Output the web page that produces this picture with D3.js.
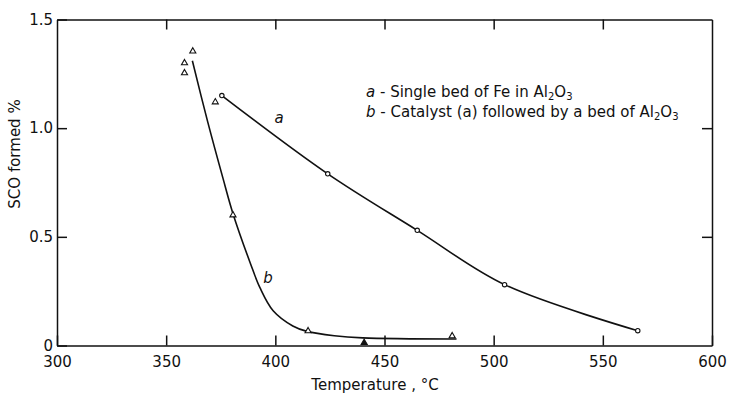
<!DOCTYPE html>
<html>
<head>
<meta charset="utf-8">
<script src="https://cdn.jsdelivr.net/npm/d3@7"></script>
<style>
  body { margin: 0; background: #fff; }
  svg { display: block; }
  .axis path, .axis line { stroke: #111; stroke-width: 1.5; }
  .axis text { font-family: "DejaVu Sans", sans-serif; font-size: 15px; fill: #111; }
  .lbl { font-family: "DejaVu Sans", sans-serif; font-size: 15px; fill: #111; }
</style>
</head>
<body>
<svg width="731" height="397"></svg>
<script>
// x ticks (temperature, °C) and y ticks (SCO formed %)
var xTicks = [300, 350, 400, 450, 500, 550, 600];
var yTicks = [0, 0.5, 1.0, 1.5];

// curve a: single bed of Fe in Al2O3 (circles)
var aTemp = [375.5, 424, 465, 505, 566];
var aVal  = [1.15, 0.79, 0.53, 0.28, 0.068];

// curve b: catalyst (a) followed by a bed of Al2O3 (triangles)
var bTemp = [362.2, 358.4, 358.4, 372.5, 380.6, 415, 440.7, 481];
var bVal  = [1.354, 1.30, 1.254, 1.12, 0.60, 0.067, 0.013, 0.044];

// smooth line drawn through b
var bLineTemp = [362, 369, 376, 380.5, 388.5, 393, 399, 408, 414.5, 427, 440, 483];
var bLineVal  = [1.31, 1.03, 0.77, 0.61, 0.38, 0.265, 0.16, 0.09, 0.065, 0.045, 0.035, 0.03];

var svg = d3.select("svg");
var mLeft = 57, mRight = 712, mTop = 19.5, mBottom = 345.5;

var x = d3.scaleLinear().domain([300, 600]).range([mLeft, mRight]);
var y = d3.scaleLinear().domain([0, 1.5]).range([mBottom, mTop]);

function zipped(xs, ys) { return xs.map(function (d, i) { return [d, ys[i]]; }); }

// axes: ticks point inward
svg.append("g")
    .attr("class", "axis")
    .attr("transform", "translate(0," + mBottom + ")")
    .call(d3.axisBottom(x).tickValues(xTicks).tickSize(-10).tickSizeOuter(0).tickPadding(11))
    .selectAll("text").attr("dy", "0.71em");
svg.append("g")
    .attr("class", "axis")
    .attr("transform", "translate(0," + mTop + ")")
    .call(d3.axisTop(x).tickValues(xTicks.slice(1, -1)).tickSize(-10).tickSizeOuter(0).tickFormat(""));
svg.append("g")
    .attr("class", "axis")
    .attr("transform", "translate(" + mLeft + ",0)")
    .call(d3.axisLeft(y).tickValues(yTicks).tickSize(-10).tickSizeOuter(0).tickPadding(4)
        .tickFormat(function (d) { return d === 0 ? "0" : d.toFixed(1); }));
svg.append("g")
    .attr("class", "axis")
    .attr("transform", "translate(" + mRight + ",0)")
    .call(d3.axisRight(y).tickValues([0.5, 1.0]).tickSize(-10).tickSizeOuter(0).tickFormat(""));

// curves
var line = d3.line()
    .x(function (d) { return x(d[0]); })
    .y(function (d) { return y(d[1]); })
    .curve(d3.curveCatmullRom.alpha(0.5));

svg.append("path")
    .datum(zipped(aTemp, aVal))
    .attr("fill", "none").attr("stroke", "#111").attr("stroke-width", 1.6)
    .attr("d", line);

svg.append("path")
    .datum(zipped(bLineTemp, bLineVal))
    .attr("fill", "none").attr("stroke", "#111").attr("stroke-width", 1.6)
    .attr("d", line);

// markers
svg.selectAll(".pa")
    .data(zipped(aTemp, aVal))
    .enter().append("circle")
    .attr("cx", function (d) { return x(d[0]); })
    .attr("cy", function (d) { return y(d[1]); })
    .attr("r", 2.2)
    .attr("fill", "#fff").attr("stroke", "#111").attr("stroke-width", 1.1);

var tri = d3.symbol().type(d3.symbolTriangle).size(16);
svg.selectAll(".pb")
    .data(zipped(bTemp, bVal))
    .enter().append("path")
    .attr("d", tri)
    .attr("transform", function (d) { return "translate(" + x(d[0]) + "," + y(d[1]) + ")"; })
    .attr("fill", function (d, i) { return i === 6 ? "#111" : "#fff"; })
    .attr("stroke", "#111").attr("stroke-width", 1.1);

// curve labels
svg.append("text").attr("class", "lbl").attr("x", 279).attr("y", 123)
    .attr("text-anchor", "middle").style("font-style", "italic").text("a");
svg.append("text").attr("class", "lbl").attr("x", 268).attr("y", 283)
    .attr("text-anchor", "middle").style("font-style", "italic").text("b");

// legend
function legendLine(yy, key, words) {
  var t = svg.append("text").attr("class", "lbl").attr("x", 366).attr("y", yy);
  t.append("tspan").style("font-style", "italic").text(key);
  t.append("tspan").text(" - " + words + " Al");
  t.append("tspan").attr("dy", 3).style("font-size", "10px").text("2");
  t.append("tspan").attr("dy", -3).text("O");
  t.append("tspan").attr("dy", 3).style("font-size", "10px").text("3");
}
legendLine(97, "a", "Single bed of Fe in");
legendLine(117, "b", "Catalyst (a) followed by a bed of");

// axis titles
svg.append("text").attr("class", "lbl")
    .attr("x", 375).attr("y", 390).attr("text-anchor", "middle")
    .text("Temperature , °C");
svg.append("text").attr("class", "lbl")
    .attr("transform", "translate(20,154) rotate(-90)")
    .attr("text-anchor", "middle")
    .text("SCO formed %");
</script>
</body>
</html>
